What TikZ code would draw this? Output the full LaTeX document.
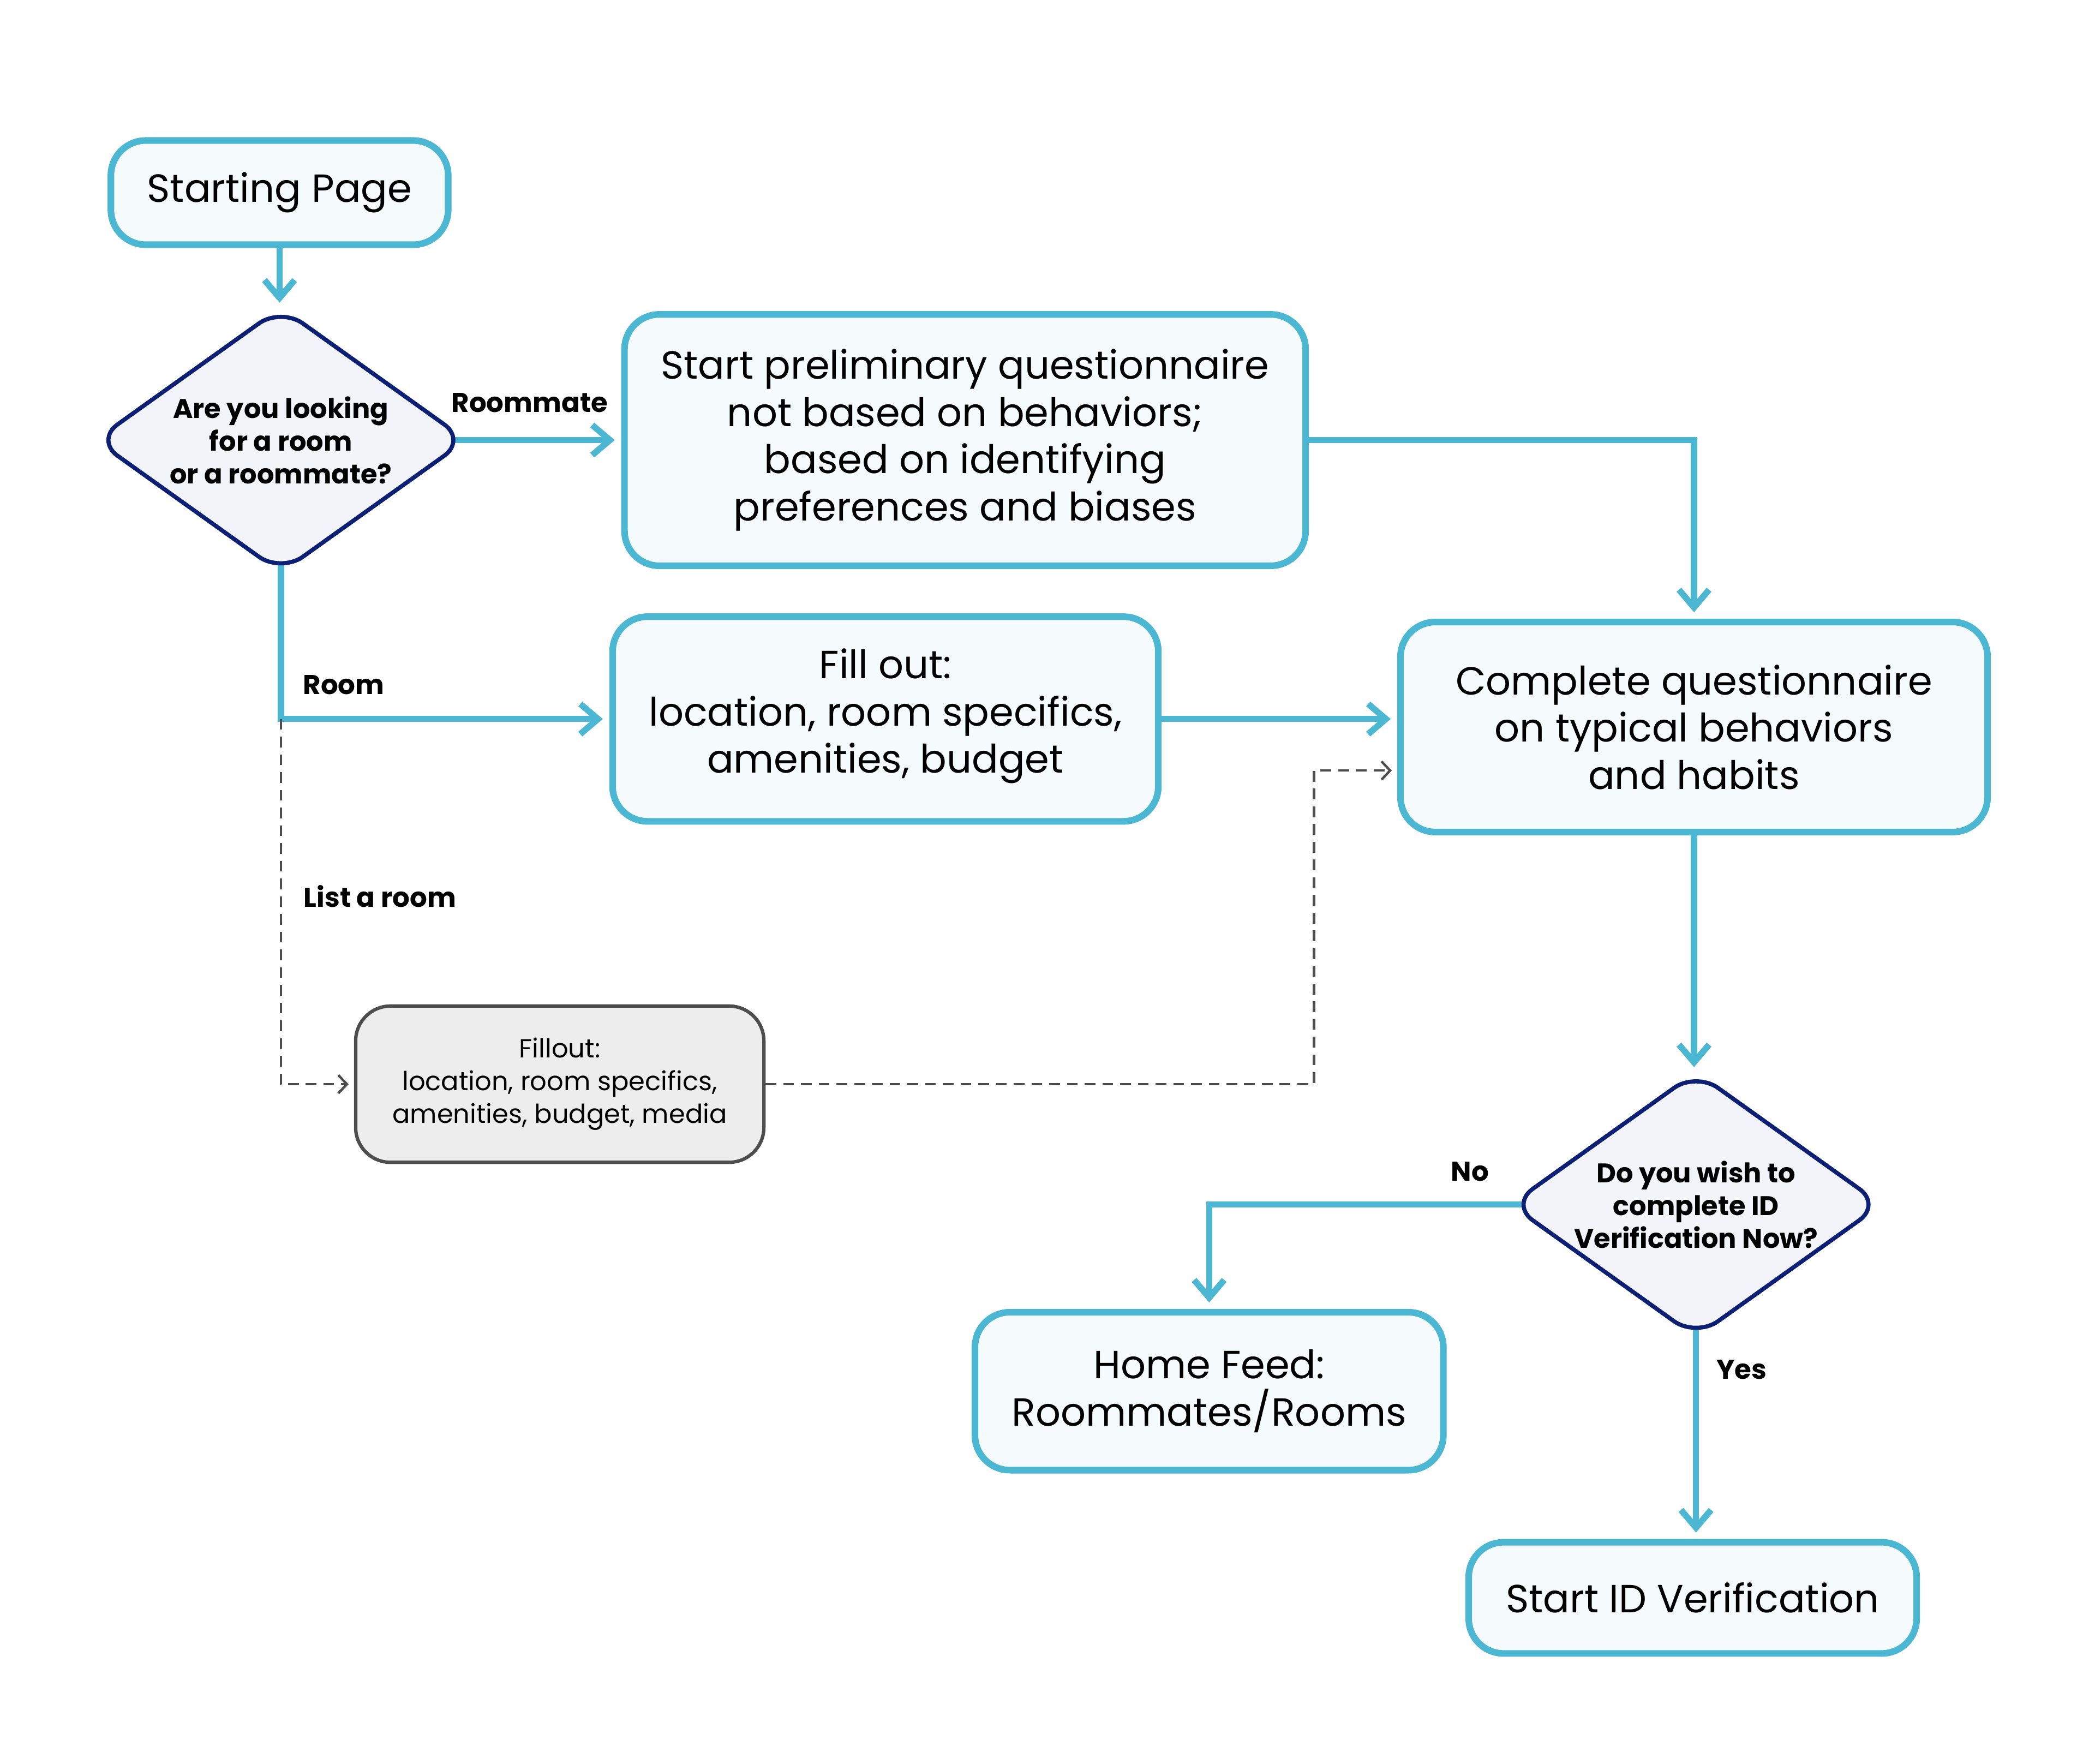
\documentclass[tikz,border=0pt]{standalone}
\usepackage{fontspec}
\setmainfont{Poppins}
\usetikzlibrary{arrows.meta,shapes.geometric}

\definecolor{flowblue}{HTML}{4BB7D3}
\definecolor{boxfill}{HTML}{F5FAFD}
\definecolor{navy}{HTML}{0B1F74}
\definecolor{decfill}{HTML}{F2F4F9}
\definecolor{listgray}{HTML}{4D4D4D}
\definecolor{listfill}{HTML}{EDEDED}

\pgfdeclarelayer{back}
\pgfsetlayers{back,main}

\begin{document}
\begin{tikzpicture}[x=0.0249cm,y=-0.0249cm,
    block/.style={draw=flowblue,fill=boxfill,line width=3.5pt,rounded corners=0.65cm,
        align=center,inner sep=0pt,font=\fontsize{20.8}{25}\selectfont},
    decision/.style={diamond,draw=navy,fill=decfill,line width=2.2pt,rounded corners=0.5cm,
        minimum width=6.93cm,minimum height=4.96cm,shape aspect=1.4,inner sep=0pt,
        align=center,font=\fontsize{14.3}{17.3}\selectfont\bfseries},
    listing/.style={draw=listgray,fill=listfill,line width=1.8pt,rounded corners=0.65cm,
        align=center,inner sep=0pt,font=\fontsize{13.85}{17.3}\selectfont},
    tag/.style={inner sep=0pt,font=\fontsize{14.4}{17}\selectfont\bfseries},
    link/.style={draw=flowblue,line width=3.3pt,shorten >=0.12cm,
        -{Straight Barb[length=0.33cm,width=0.56cm]}},
    dashlink/.style={draw=listgray,line width=1.3pt,dash pattern=on 0.2cm off 0.13cm,
        shorten >=0.1cm,-{Straight Barb[length=0.16cm,width=0.34cm]}}]

    \useasboundingbox (0,0) rectangle (1566.3,1318.7);

    % boxes
    \node[block,minimum width=6.28cm,minimum height=1.94cm] (start) at (209,144) {Starting Page};
    \node[decision] (look) at (210,329) {Are you looking\\for a room\\or a roommate?};
    \node[block,minimum width=12.68cm,minimum height=4.68cm] (prelim) at (721.5,329)
        {Start preliminary questionnaire\\not based on behaviors;\\based on identifying\\preferences and biases};
    \node[block,minimum width=10.16cm,minimum height=3.81cm,text depth=0.3cm] (fill) at (662,537.5)
        {Fill out:\\location, room specifics,\\amenities, budget};
    \node[block,minimum width=10.93cm,minimum height=3.91cm] (complete) at (1266.5,543.5)
        {Complete questionnaire\\on typical behaviors\\and habits};
    \node[listing,minimum width=7.6cm,minimum height=2.91cm] (list) at (418.5,810.5)
        {Fillout:\\location, room specifics,\\amenities, budget, media};
    \node[decision] (verify) at (1268,900.5) {Do you wish to\\complete ID\\Verification Now?};
    \node[block,minimum width=8.72cm,minimum height=2.94cm] (home) at (904,1040)
        {Home Feed:\\Roommates/Rooms};
    \node[block,minimum width=8.34cm,minimum height=2.07cm] (idcheck) at (1265.5,1194.5)
        {Start ID Verification};

    % labels
    \node[tag] (roommate) at (396,301) {Roommate};
    \node[tag] (room) at (257,512) {Room};
    \node[tag] (listroom) at (284,670) {List a room};
    \node[tag] (no) at (1099,876) {No};
    \node[tag] (yes) at (1302,1024) {Yes};

    \coordinate (split) at (look.center |- fill.west);
    \coordinate (cin) at ([yshift=-0.81cm]complete.west);

    % connectors
    \begin{pgfonlayer}{back}
        \fill[white] (0,0) rectangle (1566.3,1318.7);
        \draw[link,shorten >=0.04cm] (start.south) -- (start.south |- look.north);
        \draw[link] (look.center) -- (prelim.west);
        \draw[link] (look.center) |- (fill.west);
        \draw[link] (prelim.east) -| (complete.north);
        \draw[link] (fill.east) -- (fill.east -| complete.west);
        \draw[link,shorten >=0.04cm] (complete.south) -- (complete.south |- verify.north);
        \draw[link] (verify.center) -| (home.north);
        \draw[link] (verify.center) -- (verify.center |- idcheck.north);
        \draw[dashlink] (split) |- (list.west);
        \draw[dashlink] (list.east) -| ([xshift=-1.55cm]cin) -- (cin);
    \end{pgfonlayer}
\end{tikzpicture}
\end{document}
